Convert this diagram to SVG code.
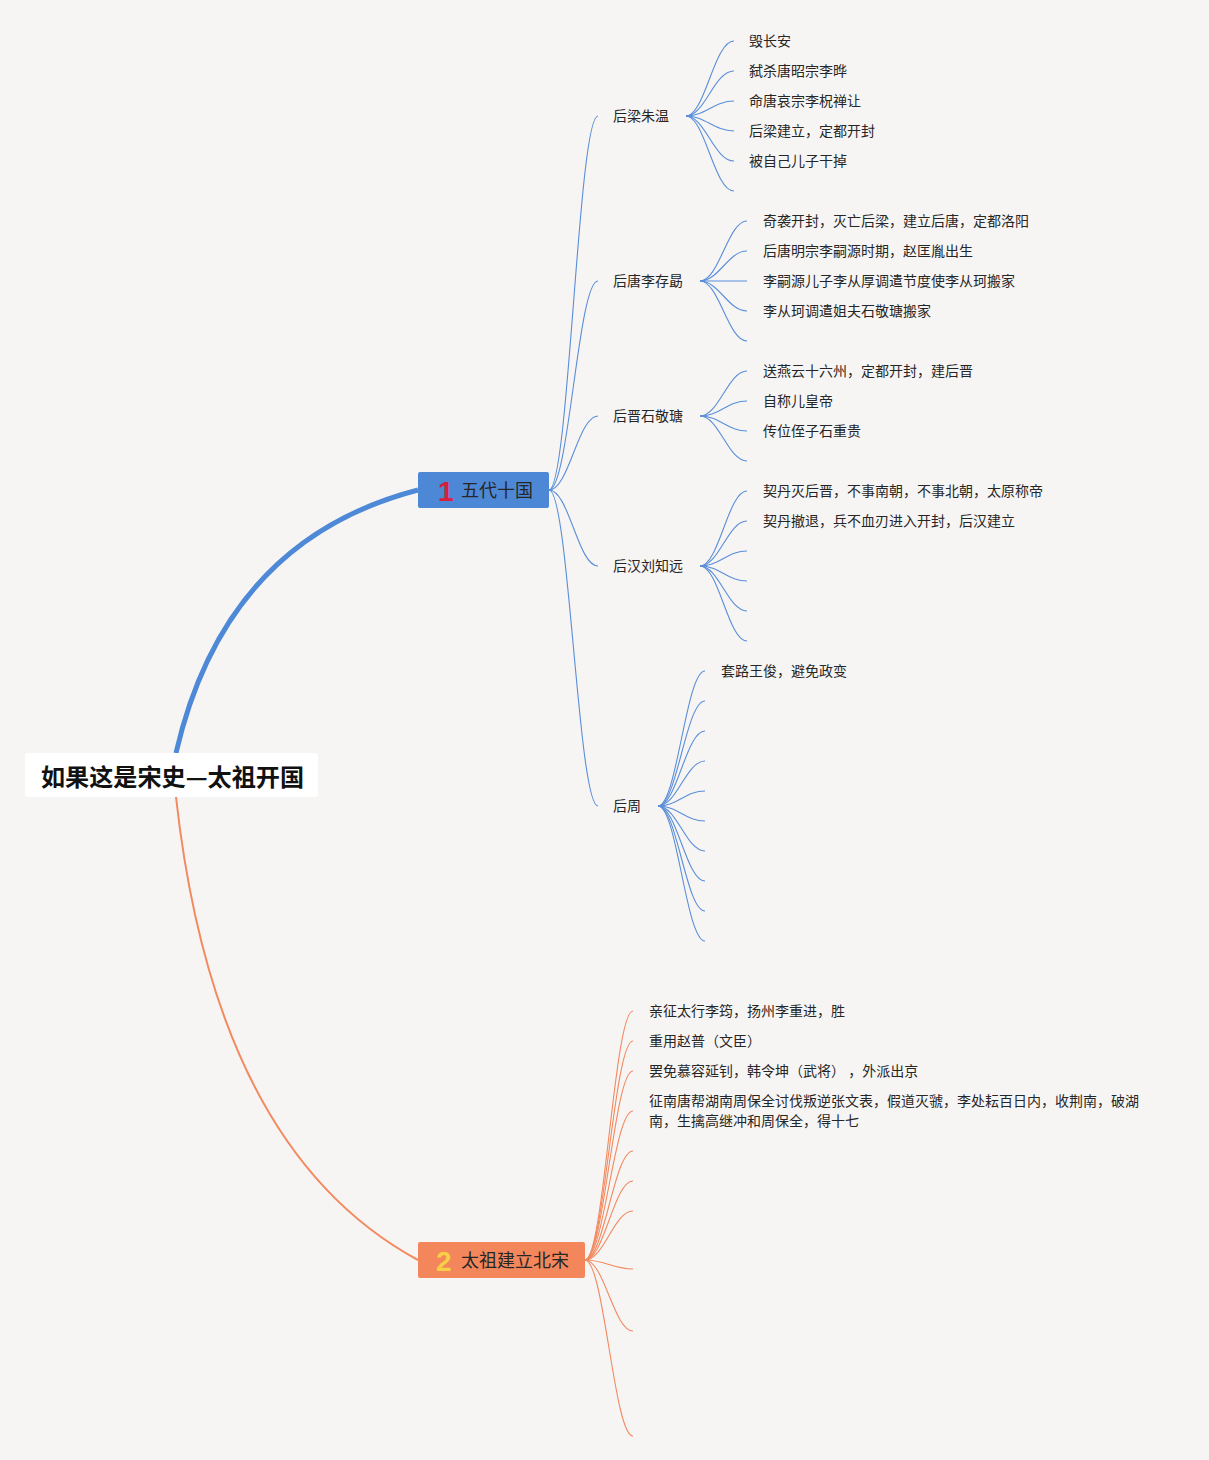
<svg xmlns="http://www.w3.org/2000/svg" width="1209" height="1460" viewBox="0 0 1209 1460">
<style>
text{font-family:"Noto Sans CJK SC","Noto Sans",sans-serif;fill:#262626}
.leaf{font-size:14px}
.sub{font-size:14px}
.main{font-size:18px}
.root{font-size:24px;font-weight:bold;fill:#111}
.num{font-size:28px;font-weight:bold;font-family:"Liberation Sans","Noto Sans",sans-serif}
.b{fill:none;stroke:#5A8ED8;stroke-width:1.1}
.o{fill:none;stroke:#F2895F;stroke-width:1.1}
</style>
<rect width="1209" height="1460" fill="#F6F5F4"/>
<g id="connectors">
<path d="M176,753 Q225,540 418,490" fill="none" stroke="#4E89D7" stroke-width="5"/>
<path d="M176,797 Q215,1150 418,1260" fill="none" stroke="#F2895F" stroke-width="2"/>
<g class="b">
<path d="M549,490 C569,490 578,116 598,116"/>
<path d="M549,490 C569,490 578,281 598,281"/>
<path d="M549,490 C569,490 578,416 598,416"/>
<path d="M549,490 C569,490 578,566 598,566"/>
<path d="M549,490 C569,490 578,806 598,806"/>
<path d="M686,116 C705,116 714,41 734,41"/>
<path d="M686,116 C705,116 714,71 734,71"/>
<path d="M686,116 C705,116 714,101 734,101"/>
<path d="M686,116 C705,116 714,131 734,131"/>
<path d="M686,116 C705,116 714,161 734,161"/>
<path d="M686,116 C705,116 714,191 734,191"/>
<path d="M700,281 C719,281 728,221 747,221"/>
<path d="M700,281 C719,281 728,251 747,251"/>
<path d="M700,281 C719,281 728,281 747,281"/>
<path d="M700,281 C719,281 728,311 747,311"/>
<path d="M700,281 C719,281 728,341 747,341"/>
<path d="M700,416 C719,416 728,371 747,371"/>
<path d="M700,416 C719,416 728,401 747,401"/>
<path d="M700,416 C719,416 728,431 747,431"/>
<path d="M700,416 C719,416 728,461 747,461"/>
<path d="M700,566 C719,566 728,491 747,491"/>
<path d="M700,566 C719,566 728,521 747,521"/>
<path d="M700,566 C719,566 728,551 747,551"/>
<path d="M700,566 C719,566 728,581 747,581"/>
<path d="M700,566 C719,566 728,611 747,611"/>
<path d="M700,566 C719,566 728,641 747,641"/>
<path d="M658,806 C677,806 686,671 705,671"/>
<path d="M658,806 C677,806 686,701 705,701"/>
<path d="M658,806 C677,806 686,731 705,731"/>
<path d="M658,806 C677,806 686,761 705,761"/>
<path d="M658,806 C677,806 686,791 705,791"/>
<path d="M658,806 C677,806 686,821 705,821"/>
<path d="M658,806 C677,806 686,851 705,851"/>
<path d="M658,806 C677,806 686,881 705,881"/>
<path d="M658,806 C677,806 686,911 705,911"/>
<path d="M658,806 C677,806 686,941 705,941"/>
</g>
<g class="o">
<path d="M585,1260 C604,1260 614,1011 633,1011"/>
<path d="M585,1260 C604,1260 614,1041 633,1041"/>
<path d="M585,1260 C604,1260 614,1071 633,1071"/>
<path d="M585,1260 C604,1260 614,1111 633,1111"/>
<path d="M585,1260 C604,1260 614,1151 633,1151"/>
<path d="M585,1260 C604,1260 614,1181 633,1181"/>
<path d="M585,1260 C604,1260 614,1211 633,1211"/>
<path d="M585,1260 C604,1260 614,1269 633,1269"/>
<path d="M585,1260 C604,1260 614,1331 633,1331"/>
<path d="M585,1260 C604,1260 614,1436 633,1436"/>
</g>
</g>
<g id="root">
<rect x="25" y="753" width="293" height="44" rx="3" fill="#FFFFFF"/>
<text class="root" x="41" y="786" textLength="263" lengthAdjust="spacingAndGlyphs">如果这是宋史—太祖开国</text>
</g>
<g id="node1">
<rect x="418" y="472" width="131" height="36" rx="2" fill="#4D88D6"/>
<text class="num" x="438" y="501" style="fill:#D81E3C">1</text>
<text class="main" x="461" y="497">五代十国</text>
</g>
<g id="node2">
<rect x="418" y="1242" width="167" height="36" rx="2" fill="#F4865C"/>
<text class="num" x="436" y="1271" style="fill:#F7D046">2</text>
<text class="main" x="461" y="1267">太祖建立北宋</text>
</g>
<g id="houliang">
<text class="sub" x="613" y="121">后梁朱温</text>
<text class="leaf" x="749" y="46">毁长安</text>
<text class="leaf" x="749" y="76">弑杀唐昭宗李晔</text>
<text class="leaf" x="749" y="106">命唐哀宗李柷禅让</text>
<text class="leaf" x="749" y="136">后梁建立，定都开封</text>
<text class="leaf" x="749" y="166">被自己儿子干掉</text>
</g>
<g id="houtang">
<text class="sub" x="613" y="286">后唐李存勗</text>
<text class="leaf" x="763" y="226">奇袭开封，灭亡后梁，建立后唐，定都洛阳</text>
<text class="leaf" x="763" y="256">后唐明宗李嗣源时期，赵匡胤出生</text>
<text class="leaf" x="763" y="286">李嗣源儿子李从厚调遣节度使李从珂搬家</text>
<text class="leaf" x="763" y="316">李从珂调遣姐夫石敬瑭搬家</text>
</g>
<g id="houjin">
<text class="sub" x="613" y="421">后晋石敬瑭</text>
<text class="leaf" x="763" y="376">送燕云十六州，定都开封，建后晋</text>
<text class="leaf" x="763" y="406">自称儿皇帝</text>
<text class="leaf" x="763" y="436">传位侄子石重贵</text>
</g>
<g id="houhan">
<text class="sub" x="613" y="571">后汉刘知远</text>
<text class="leaf" x="763" y="496">契丹灭后晋，不事南朝，不事北朝，太原称帝</text>
<text class="leaf" x="763" y="526">契丹撤退，兵不血刃进入开封，后汉建立</text>
</g>
<g id="houzhou">
<text class="sub" x="613" y="811">后周</text>
<text class="leaf" x="721" y="676">套路王俊，避免政变</text>
</g>
<g id="beisong">
<text class="leaf" x="649" y="1016">亲征太行李筠，扬州李重进，胜</text>
<text class="leaf" x="649" y="1046">重用赵普（文臣）</text>
<text class="leaf" x="649" y="1076" xml:space="preserve">罢免慕容延钊，韩令坤（武将） ，外派出京</text>
<text class="leaf" x="649" y="1106">征南唐帮湖南周保全讨伐叛逆张文表，假道灭虢，李处耘百日内，收荆南，破湖</text>
<text class="leaf" x="649" y="1126">南，生擒高继冲和周保全，得十七</text>
</g>
</svg>
